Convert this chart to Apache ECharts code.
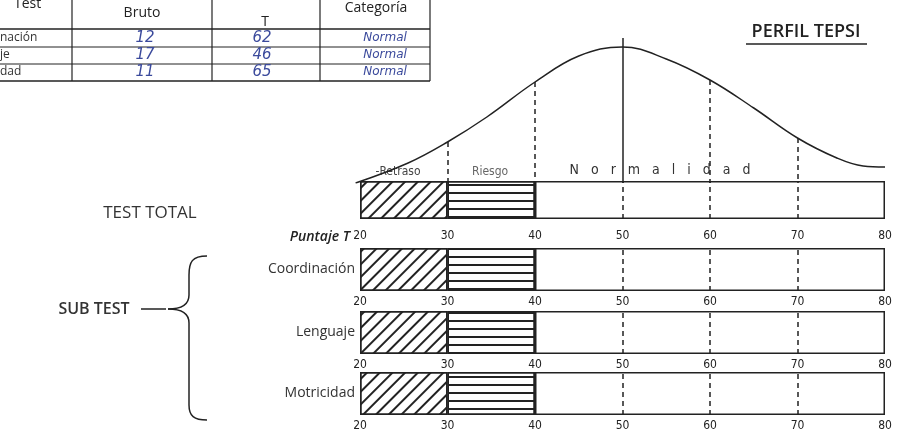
<!DOCTYPE html>
<html>
<head>
<meta charset="utf-8">
<script src="https://cdn.jsdelivr.net/npm/echarts@6/dist/echarts.min.js"></script>
<style>
    html, body {margin: 0; padding: 0; background: #fff;}
    #chart {width: 899px; height: 439px;}
</style>
</head>
<body>
<div id="chart"></div>
<script>
// ---- data ----
var rowNames = ['TEST TOTAL', 'Coordinación', 'Lenguaje', 'Motricidad'];
var baseStart = [20, 20, 20, 20];
var retraso = [10, 10, 10, 10];    // 20 - 30
var riesgo = [10, 10, 10, 10];     // 30 - 40
var normalidad = [40, 40, 40, 40]; // 40 - 80
var dashMarks = [50, 60, 70];
var tickLabels = ['20', '30', '40', '50', '60', '70', '80'];

// bell curve, T score vs height above the bars
var curveT = [19.5, 25.5, 30, 34.5, 40, 45, 50, 55, 60, 65, 70, 74.5, 77.5, 80];
var curveH = [0, 20, 41, 66, 101, 127, 136, 124, 103, 75, 45, 25, 17, 16];
var guideIdx = [2, 4, 8, 10]; // T = 30, 40, 60, 70
var centerT = 50;
var centerTop = 145;

// small table
var tableTest = ['nación', 'je', 'dad'];
var tableBruto = ['12', '17', '11'];
var tablePuntaje = ['62', '46', '65'];
var tableCategoria = ['Normal', 'Normal', 'Normal'];

var ink = '#222';
var narrow = '"Liberation Sans Narrow", "DejaVu Sans Condensed", sans-serif';
var calibri = '"Open Sans", "Liberation Sans", sans-serif';
var hand = '"DejaVu Sans", sans-serif';

var rowBoxes = [
    {top: 181, height: 38, margin: 11},
    {top: 248, height: 43, margin: 5},
    {top: 311, height: 43, margin: 5},
    {top: 372, height: 43, margin: 5}
];

var grids = [{left: 342.5, right: 14, top: 33, bottom: 256}];
var xAxes = [{
    gridIndex: 0, type: 'value', min: 18, max: 80, show: false
}];
var yAxes = [{
    gridIndex: 0, type: 'value', min: 0, max: 150, show: false
}];
var series = [];

// curve with its guide lines
var guideLines = guideIdx.map(function (i) {
    return [{coord: [curveT[i], curveH[i]]}, {coord: [curveT[i], 0]}];
});
series.push({
    type: 'line',
    xAxisIndex: 0,
    yAxisIndex: 0,
    smooth: 0.4,
    symbol: 'none',
    silent: true,
    lineStyle: {color: ink, width: 1.5},
    data: curveT.map(function (t, i) { return [t, curveH[i]]; }),
    markLine: {
        symbol: 'none',
        silent: true,
        label: {show: false},
        lineStyle: {color: ink, width: 1.5, type: [5, 4]},
        data: guideLines.concat([[
            {coord: [centerT, centerTop], lineStyle: {type: 'solid', width: 1.5}},
            {coord: [centerT, 0]}
        ]])
    }
});

rowBoxes.forEach(function (box, r) {
    var g = r + 1;
    grids.push({left: 360, right: 14, top: box.top, height: box.height});
    xAxes.push({
        gridIndex: g,
        type: 'value',
        min: 20,
        max: 80,
        interval: 10,
        axisLine: {show: false},
        axisTick: {show: false},
        splitLine: {show: false},
        axisLabel: {
            margin: box.margin,
            fontSize: 12,
            color: '#222',
            fontFamily: narrow,
            formatter: function (v) { return tickLabels[(v - 20) / 10]; }
        }
    });
    yAxes.push({
        gridIndex: g,
        type: 'category',
        data: [rowNames[r]],
        axisLine: {show: false},
        axisTick: {show: false},
        axisLabel: {
            show: r > 0,
            margin: 5,
            fontSize: 14,
            color: '#333',
            fontFamily: calibri
        }
    });
    var common = {
        type: 'bar',
        xAxisIndex: g,
        yAxisIndex: g,
        stack: 'row' + r,
        barWidth: '100%',
        silent: true
    };
    series.push(Object.assign({}, common, {
        data: [baseStart[r]],
        itemStyle: {color: 'rgba(0,0,0,0)'}
    }));
    series.push(Object.assign({}, common, {
        data: [retraso[r]],
        itemStyle: {
            color: '#fff', borderColor: ink, borderWidth: 1.5,
            decal: {symbol: 'rect', symbolSize: 1, dashArrayX: [1, 0], dashArrayY: [1.8, 6.5], rotation: -Math.PI / 4, color: ink}
        }
    }));
    series.push(Object.assign({}, common, {
        data: [riesgo[r]],
        itemStyle: {
            color: '#fff', borderColor: ink, borderWidth: 1.5,
            decal: {symbol: 'rect', symbolSize: 1, dashArrayX: [1, 0], dashArrayY: [1.6, 6], rotation: 0, color: ink}
        }
    }));
    series.push(Object.assign({}, common, {
        data: [normalidad[r]],
        itemStyle: {color: '#fff', borderColor: ink, borderWidth: 1.5},
        markLine: {
            symbol: 'none',
            silent: true,
            label: {show: false},
            lineStyle: {color: ink, width: 1.5, type: [5, 4]},
            data: dashMarks.map(function (v) { return {xAxis: v}; })
        }
    }));
});

// ---- decoration: table, titles, brace ----
var graphics = [];
function hline(x1, x2, y, w) {
    graphics.push({type: 'line', silent: true, shape: {x1: x1, y1: y, x2: x2, y2: y}, style: {stroke: ink, lineWidth: w || 1}});
}
function vline(x, y1, y2, w) {
    graphics.push({type: 'line', silent: true, shape: {x1: x, y1: y1, x2: x, y2: y2}, style: {stroke: ink, lineWidth: w || 1}});
}
function text(str, x, y, font, color, align) {
    graphics.push({
        type: 'text', silent: true, x: x, y: y,
        style: {
            text: str, font: font, fill: color || '#222',
            align: align || 'left', verticalAlign: 'middle',
            textAlign: align || 'left', textVerticalAlign: 'middle'
        }
    });
}

// table
[72, 212, 320, 430].forEach(function (x) { vline(x, 0, 81, 1.2); });
hline(0, 430, 29, 1.5);
hline(0, 430, 47, 1);
hline(0, 430, 64, 1);
hline(0, 430, 81, 1.5);
text('Test', 14, 4, '14px ' + calibri, '#222');
text('Bruto', 142, 13, '14px ' + calibri, '#222', 'center');
text('T', 265, 22, '14px ' + calibri, '#222', 'center');
text('Categoría', 376, 8, '14px ' + calibri, '#222', 'center');
tableTest.forEach(function (s, i) {
    var y = 38 + i * 17;
    text(s, 0, y, '12px ' + calibri, '#333');
    text(tableBruto[i], 145, y, 'italic 15px ' + hand, '#3b4a9c', 'center');
    text(tablePuntaje[i], 262, y, 'italic 15px ' + hand, '#3b4a9c', 'center');
    text(tableCategoria[i], 385, y, 'italic 12px ' + hand, '#3b4a9c', 'center');
});

// title
text('PERFIL TEPSI', 806, 32, '600 18px ' + calibri, '#222', 'center');
hline(746, 867, 44, 1.5);

// band names above the total bar
text('-Retraso', 398, 172, '12px ' + narrow, '#444', 'center');
text('Riesgo', 490, 172, '12px ' + narrow, '#666', 'center');
text('N   o   r   m   a   l   i   d   a   d', 660, 170, '14px ' + narrow, '#333', 'center');
text('0', 612, 196, '9px ' + narrow, '#333', 'center');

// left labels
text('TEST TOTAL', 150, 213, '17px ' + calibri, '#333', 'center');
text('SUB TEST', 94, 309, '600 16px ' + calibri, '#333', 'center');
text('Puntaje T', 350, 237, 'italic 600 14px ' + calibri, '#222', 'right');

// brace and arrow
hline(141, 166, 309, 1.5);
graphics.push({type: 'bezierCurve', silent: true, shape: {x1: 207, y1: 256, cpx1: 192, cpy1: 256, cpx2: 189, cpy2: 262, x2: 189, y2: 275}, style: {stroke: ink, lineWidth: 1.5, fill: null}});
vline(189, 275, 295, 1.5);
graphics.push({type: 'bezierCurve', silent: true, shape: {x1: 189, y1: 295, cpx1: 189, cpy1: 305, cpx2: 180, cpy2: 309, x2: 168, y2: 309}, style: {stroke: ink, lineWidth: 1.5, fill: null}});
graphics.push({type: 'bezierCurve', silent: true, shape: {x1: 168, y1: 309, cpx1: 180, cpy1: 309, cpx2: 189, cpy2: 313, x2: 189, y2: 323}, style: {stroke: ink, lineWidth: 1.5, fill: null}});
vline(189, 323, 405, 1.5);
graphics.push({type: 'bezierCurve', silent: true, shape: {x1: 189, y1: 405, cpx1: 189, cpy1: 416, cpx2: 194, cpy2: 420, x2: 207, y2: 420}, style: {stroke: ink, lineWidth: 1.5, fill: null}});

var chart = echarts.init(document.getElementById('chart'));
chart.setOption({
    animation: false,
    backgroundColor: '#fff',
    grid: grids,
    xAxis: xAxes,
    yAxis: yAxes,
    series: series,
    graphic: graphics
});
</script>
</body>
</html>
